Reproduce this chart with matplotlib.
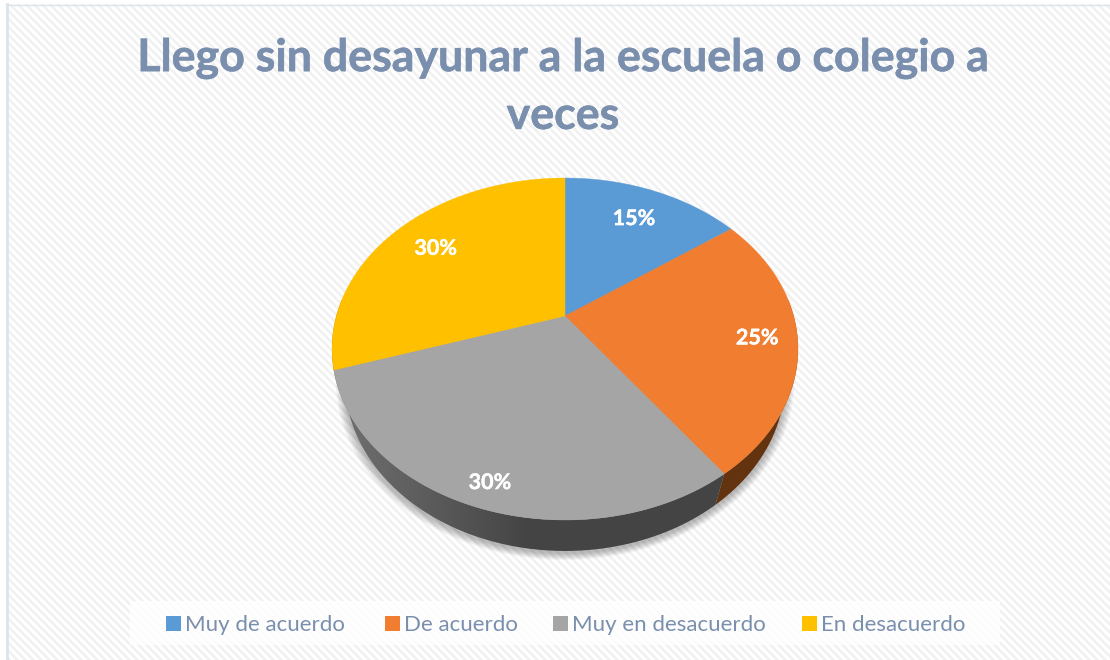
import numpy as np
import matplotlib.pyplot as plt
import matplotlib.patheffects as pe
from matplotlib.colors import LinearSegmentedColormap
from matplotlib.patches import Polygon, Rectangle

title = 'Llego sin desayunar a la escuela o colegio a\nveces'
categories = ['Muy de acuerdo', 'De acuerdo', 'Muy en desacuerdo', 'En desacuerdo']
values = [15, 25, 30, 30]
colors = ['#5b9bd5', '#f07d30', '#a5a5a5', '#ffc000']
side_dark = ['#2f4f6f', '#63330f', '#444444', '#7a5c00']
side_light = ['#3f6f9f', '#63330f', '#707070', '#8f6c00']
label_radius = [0.75, 0.83, 0.89, 0.76]
legend_x = [166, 385, 553, 802]

text_col = '#7a8fad'
cx, cy = 565, 316
rx, ry, k = 228.6, 164.6, 0.193
depth = 31
shrink = 0.945


def project(r, ang):
    # ang in degrees clockwise from 12 o'clock, tilted disc with perspective
    t = np.radians(90 - np.asarray(ang, dtype=float))
    w = 1 + k * r * np.sin(t)
    return cx + rx * r * np.cos(t) / w, cy - ry * r * np.sin(t) / w


def lower_ring(ang):
    x, y = project(1, ang)
    return cx + (x - cx) * shrink, y + depth


def wedge(a0, a1):
    a = np.linspace(a0, a1, 120)
    x, y = project(1, a)
    return np.column_stack([np.r_[cx, x], np.r_[cy, y]])


fig = plt.figure(figsize=(11.1, 6.6), dpi=100, facecolor='white')
ax = fig.add_axes([0, 0, 1, 1])
ax.set_xlim(0, 1110)
ax.set_ylim(660, 0)
ax.set_autoscale_on(False)
ax.axis('off')

# striped chart background
yy, xx = np.mgrid[0:660, 0:1110]
stripes = ((xx - yy) % 8 < 4).astype(float)
ax.imshow(stripes, extent=(0, 1110, 660, 0), cmap='gray', vmin=-18, vmax=1,
          interpolation='bilinear', aspect='auto', zorder=0)
ax.add_patch(Rectangle((0, 0), 6, 660, fc='white', ec='none', zorder=0.8))
ax.add_patch(Rectangle((0, 0), 1110, 4, fc='white', ec='none', zorder=0.8))
ax.plot([7, 7], [4, 659], color='#dde3ea', lw=2, zorder=1)
ax.plot([6, 1110], [4.5, 4.5], color='#dde3ea', lw=1, zorder=1)

edges = np.r_[0, np.cumsum(values)] * 360 / sum(values)

# soft shadow under the pie
all_angs = np.linspace(0, 360, 240)
low_x, low_y = lower_ring(all_angs)
for i in range(12):
    grow = (12 - i) * 0.0035
    ax.fill(cx + (low_x - cx) * (1 + grow), 349 + depth + 2 + (low_y - 349 - depth) * (1 + grow),
            color='black', alpha=0.022, lw=0, zorder=2)

# side wall, lighter on the left, clipped to each slice outline
grad = np.clip((np.linspace(330, 800, 470) - 340) / 190, 0, 1)[None, :]
for i in range(len(values)):
    angs = np.linspace(edges[i], edges[i + 1], 160)
    px, py = project(1, angs)
    qx, qy = lower_ring(angs)
    outline = np.column_stack([np.r_[px, qx[::-1]], np.r_[py, qy[::-1]]])
    patch = Polygon(outline, fc='none', ec='none', zorder=3)
    ax.add_patch(patch)
    cmap = LinearSegmentedColormap.from_list('side', [side_light[i], side_dark[i]])
    im = ax.imshow(grad, extent=(330, 800, 560, 300), cmap=cmap, vmin=0, vmax=1,
                   aspect='auto', zorder=3)
    im.set_clip_path(patch)

# top face
for i in range(len(values)):
    ax.add_patch(Polygon(wedge(edges[i], edges[i + 1]), fc=colors[i], ec=colors[i], lw=0.3, zorder=4))

# value labels
thick = [pe.withStroke(linewidth=0.3, foreground='white')]
for i, v in enumerate(values):
    lx, ly = project(label_radius[i], (edges[i] + edges[i + 1]) / 2)
    ax.text(lx, ly, f'{v}%', color='white', fontsize=15.5, fontweight='bold', family='Lato',
            ha='center', va='center', zorder=5, path_effects=thick)

ax.text(563, 87, title, color=text_col, fontsize=32.2, fontweight='bold', family='Lato',
        ha='center', va='center', linespacing=1.45, zorder=5,
        path_effects=[pe.withStroke(linewidth=0.4, foreground=text_col)])

# legend
ax.add_patch(Rectangle((130, 601), 870, 44, fc='white', ec='none', alpha=0.8, zorder=2))
for name, col, x in zip(categories, colors, legend_x):
    ax.add_patch(Rectangle((x, 616), 15, 15, fc=col, ec='none', zorder=5))
    ax.text(x + 19, 625, name, color=text_col, fontsize=16, family='Lato',
            ha='left', va='center', zorder=5)

fig.savefig('out.png', dpi=100)
